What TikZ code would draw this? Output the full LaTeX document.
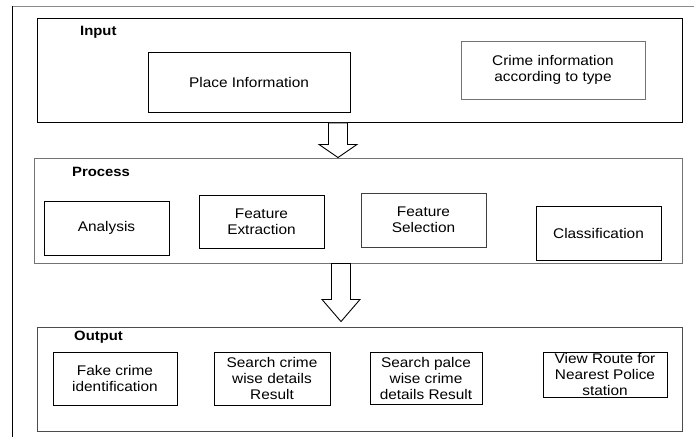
\documentclass[tikz,border=0pt]{standalone}
\usepackage{fontspec}
\setmainfont{Liberation Sans}[FakeStretch=1.1]
\usetikzlibrary{calc}
\begin{document}
\begin{tikzpicture}[x=1pt,y=-1pt,
  every node/.style={font=\fontsize{14}{16}\selectfont, align=center, inner sep=0pt},
  frame/.style={draw=black, line width=0.9pt, rectangle},
  inbox/.style={draw=black, line width=0.9pt, rectangle},
  grey/.style={draw=black!55},
  lbl/.style={font=\fontsize{13.5}{16}\selectfont\bfseries, anchor=west},
  blockarrow/.style={draw=black, line width=0.9pt, fill=white, line join=miter}]
\useasboundingbox (0,0) rectangle (694,437);
\fill[white] (0,0) rectangle (694,437);
% outer frame
\draw[black!45, line width=0.9pt] (694,6) -- (12,6);
\draw[black, line width=0.9pt] (12,6) -- (12,437);

% Input
\node[frame, minimum width=645, minimum height=104] (input) at (359.5,70) {};
\node[lbl] (inlbl) at (80,32) {Input};
\node[inbox, minimum width=202, minimum height=60] (place) at (249,82) {Place Information};
\node[inbox, grey, minimum width=184, minimum height=58] (crime) at (553,70) {Crime information\\according to type};

% Process
\node[frame, grey, minimum width=648, minimum height=105] (process) at (358,210.5) {};
\node[lbl] (prlbl) at (72,172) {Process};
\node[inbox, minimum width=125, minimum height=54] (analysis) at (106.5,228) {Analysis};
\node[inbox, minimum width=125, minimum height=53] (fext) at (261.5,221.5) {Feature\\Extraction};
\node[inbox, black!75, draw=black!75, text=black, minimum width=125, minimum height=54] (fsel) at (423.5,220) {Feature\\Selection};
\node[inbox, minimum width=125, minimum height=54] (classif) at (598.5,233) {Classification};

% Output
\node[frame, draw=black!70, minimum width=645, minimum height=104] (output) at (359.5,379) {};
\node[lbl] (outlbl) at (74,337) {Output};
\node[inbox, minimum width=124, minimum height=53] (fake) at (115,378.5) {Fake crime\\identification};
\node[inbox, minimum width=116, minimum height=53] (scrime) at (272,378.5) {Search crime\\wise details\\Result};
\node[inbox, minimum width=112, minimum height=52] (splace) at (426,378) {Search palce\\wise crime\\details Result};
\node[inbox, minimum width=124, minimum height=45] (route) at (605,374.5) {View Route for\\Nearest Police\\station};

% block arrows
\coordinate (a1) at ($(input.south)+(-21.5,0.5)$);
\coordinate (a1tip) at (a1 |- process.north);
\draw[blockarrow] ($(a1)+(-9.5,0)$) -- ($(a1)+(-9.5,21.5)$) -- ($(a1)+(-19,21.5)$) -- (a1tip)
  -- ($(a1)+(19,21.5)$) -- ($(a1)+(9.5,21.5)$) -- ($(a1)+(9.5,0)$) -- cycle;

\coordinate (a2) at ($(process.south)+(-17,0)$);
\coordinate (a2tip) at ($(a2 |- output.north)+(0,-5)$);
\draw[blockarrow] ($(a2)+(-9.5,0)$) -- ($(a2)+(-9.5,36)$) -- ($(a2)+(-19,36)$) -- (a2tip)
  -- ($(a2)+(19,36)$) -- ($(a2)+(9.5,36)$) -- ($(a2)+(9.5,0)$) -- cycle;
\end{tikzpicture}
\end{document}
